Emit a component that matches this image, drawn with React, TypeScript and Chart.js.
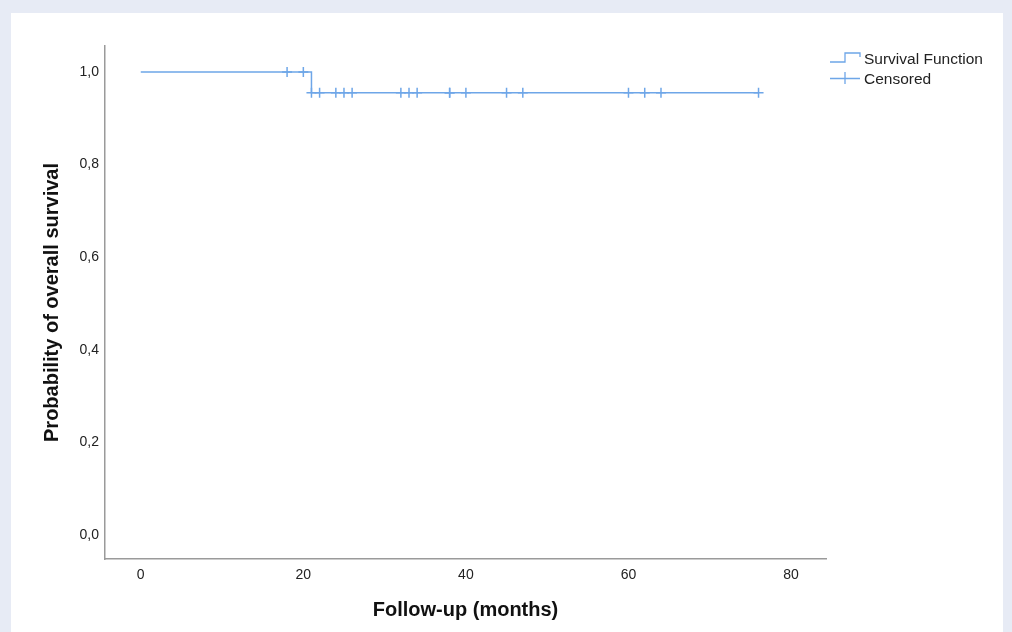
import React, { useEffect, useRef } from "react";
import { Chart, registerables } from "chart.js";

Chart.register(...registerables);

// ---- data ----
const eventTimes = [0, 21, 76];
const survivalProb = [1.0, 0.955, 0.955];
const censorTimes = [18, 20, 21, 22, 24, 25, 26, 32, 33, 34, 38, 38, 40, 45, 47, 60, 62, 64, 76];
const xTicks = [0, 20, 40, 60, 80];
const yTicks = [0, 0.2, 0.4, 0.6, 0.8, 1.0];
const legendLabels = ["Survival Function", "Censored"];
const xTitle = "Follow-up (months)";
const yTitle = "Probability of overall survival";

const LINE = "#6ea6e8";
const FONT = "'Liberation Sans', Arial, sans-serif";

function survivalAt(t: number): number {
  let s = survivalProb[0];
  for (let i = 0; i < eventTimes.length; i++) {
    if (eventTimes[i] <= t) s = survivalProb[i];
  }
  return s;
}

const legendPlugin = {
  id: "kmLegend",
  afterDraw(chart: any) {
    const ctx = chart.ctx as CanvasRenderingContext2D;
    ctx.save();
    ctx.strokeStyle = LINE;
    ctx.lineWidth = 1.3;
    // step symbol
    ctx.beginPath();
    ctx.moveTo(819, 49);
    ctx.lineTo(834, 49);
    ctx.lineTo(834, 40);
    ctx.lineTo(849, 40);
    ctx.lineTo(849, 44);
    ctx.stroke();
    // censored symbol
    ctx.beginPath();
    ctx.moveTo(819, 65.5);
    ctx.lineTo(849, 65.5);
    ctx.moveTo(834, 59);
    ctx.lineTo(834, 71);
    ctx.stroke();
    ctx.fillStyle = "#222";
    ctx.font = `15.5px ${FONT}`;
    ctx.textBaseline = "middle";
    ctx.textAlign = "left";
    ctx.fillText(legendLabels[0], 853, 47);
    ctx.fillText(legendLabels[1], 853, 67);
    ctx.restore();
  },
};

export default function App() {
  const ref = useRef<HTMLCanvasElement | null>(null);

  useEffect(() => {
    if (!ref.current) return;
    const chart = new Chart(ref.current, {
      type: "line",
      data: {
        datasets: [
          {
            label: legendLabels[0],
            data: eventTimes.map((t, i) => ({ x: t, y: survivalProb[i] })),
            borderColor: LINE,
            borderWidth: 1.5,
            stepped: "before",
            pointRadius: 0,
            fill: false,
          },
          {
            label: legendLabels[1],
            data: censorTimes.map((t) => ({ x: t, y: survivalAt(t) })),
            showLine: false,
            pointStyle: "cross",
            pointRadius: 5,
            pointBorderWidth: 1.5,
            pointBorderColor: LINE,
            pointBackgroundColor: LINE,
            borderColor: LINE,
          },
        ],
      },
      options: {
        animation: false,
        responsive: false,
        devicePixelRatio: 1,
        layout: { padding: { left: 27, right: 177, top: 33, bottom: 0 } },
        plugins: {
          legend: { display: false },
          tooltip: { enabled: false },
        },
        scales: {
          x: {
            type: "linear",
            min: -4.4,
            max: 84.3,
            grid: { display: false, drawTicks: false },
            border: { display: true, color: "#9a9a9a", width: 1.5 },
            afterBuildTicks: (scale: any) => {
              scale.ticks = xTicks.map((v) => ({ value: v }));
            },
            afterFit: (scale: any) => {
              scale.height = 73;
            },
            ticks: {
              padding: 8,
              color: "#222",
              font: { family: FONT, size: 14 },
              maxRotation: 0,
              autoSkip: false,
              callback: (v: any) => String(v),
            },
            title: {
              display: true,
              text: xTitle,
              color: "#111",
              font: { family: FONT, size: 20, weight: "bold" },
              padding: { top: 0, bottom: 10 },
            },
          },
          y: {
            type: "linear",
            min: -0.052,
            max: 1.056,
            grid: { display: false, drawTicks: false },
            border: { display: true, color: "#9a9a9a", width: 1.5 },
            afterBuildTicks: (scale: any) => {
              scale.ticks = yTicks.map((v) => ({ value: v }));
            },
            afterFit: (scale: any) => {
              scale.width = 67;
            },
            ticks: {
              padding: 6,
              color: "#222",
              font: { family: FONT, size: 14 },
              autoSkip: false,
              callback: (v: any) => Number(v).toFixed(1).replace(".", ","),
            },
            title: {
              display: true,
              text: yTitle,
              color: "#111",
              font: { family: FONT, size: 20, weight: "bold" },
              padding: { top: 2, bottom: 0 },
            },
          },
        },
      },
      plugins: [legendPlugin],
    } as any);
    return () => chart.destroy();
  }, []);

  return (
    <div
      style={{
        position: "absolute",
        left: 0,
        top: 0,
        width: 1012,
        height: 632,
        background: "#e7ebf5",
        overflow: "hidden",
      }}
    >
      <div
        style={{
          position: "absolute",
          left: 11,
          top: 13,
          width: 992,
          height: 619,
          background: "#ffffff",
        }}
      >
        <canvas ref={ref} width={992} height={619} style={{ width: 992, height: 619, display: "block" }} />
      </div>
    </div>
  );
}
